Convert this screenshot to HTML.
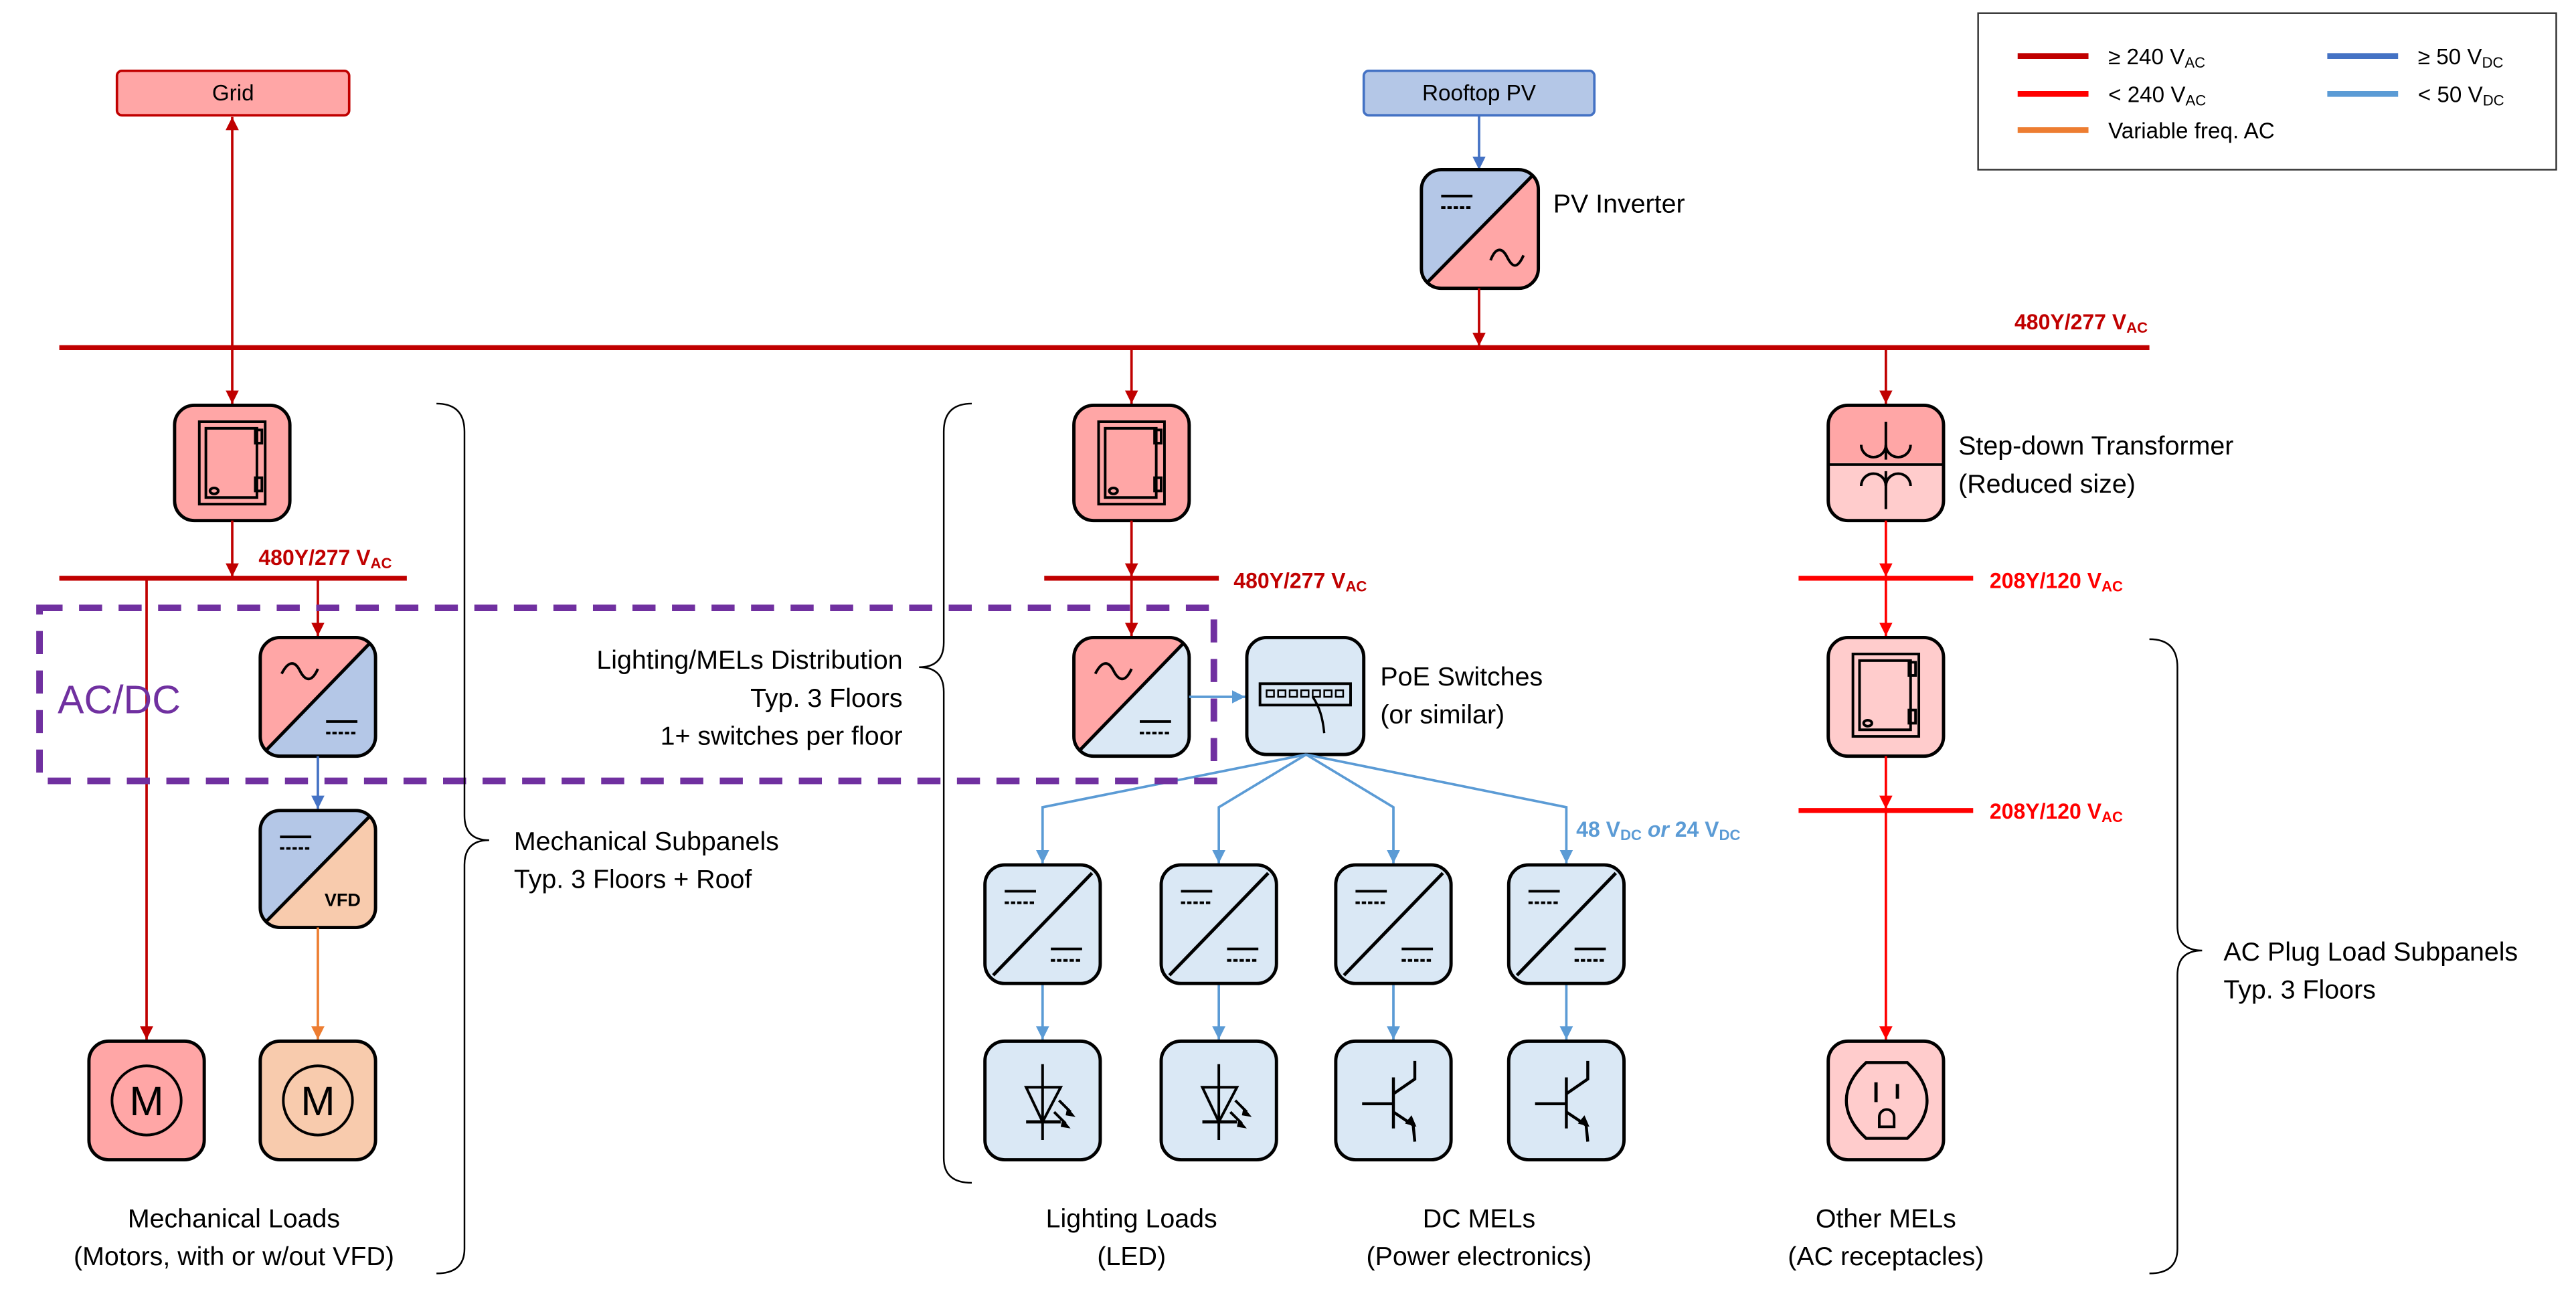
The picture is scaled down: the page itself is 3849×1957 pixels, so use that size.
<!DOCTYPE html>
<html><head><meta charset="utf-8"><style>html,body{margin:0;padding:0;background:#fff}svg{display:block}</style></head>
<body>
<svg xmlns="http://www.w3.org/2000/svg" width="3849" height="1957" viewBox="0 0 1564 795.2" font-family="Liberation Sans, sans-serif">
<defs>
<clipPath id="rr" clipPathUnits="objectBoundingBox"><rect x="0" y="0" width="1" height="1" rx="0.17" ry="0.17"/></clipPath>
<marker id="aD" markerUnits="userSpaceOnUse" markerWidth="10" markerHeight="10" refX="8" refY="4" orient="auto"><path d="M0,0L8,4L0,8z" fill="#c00000"/></marker>
<marker id="aDs" markerUnits="userSpaceOnUse" markerWidth="10" markerHeight="10" refX="8" refY="4" orient="auto-start-reverse"><path d="M0,0L8,4L0,8z" fill="#c00000"/></marker>
<marker id="aR" markerUnits="userSpaceOnUse" markerWidth="10" markerHeight="10" refX="8" refY="4" orient="auto"><path d="M0,0L8,4L0,8z" fill="#ff0000"/></marker>
<marker id="aB" markerUnits="userSpaceOnUse" markerWidth="10" markerHeight="10" refX="8" refY="4" orient="auto"><path d="M0,0L8,4L0,8z" fill="#4472c4"/></marker>
<marker id="aL" markerUnits="userSpaceOnUse" markerWidth="10" markerHeight="10" refX="8" refY="4" orient="auto"><path d="M0,0L8,4L0,8z" fill="#5b9bd5"/></marker>
<marker id="aO" markerUnits="userSpaceOnUse" markerWidth="10" markerHeight="10" refX="8" refY="4" orient="auto"><path d="M0,0L8,4L0,8z" fill="#ed7d31"/></marker>
<g id="door" fill="none" stroke="#000" stroke-width="1.6">
<rect x="15" y="10" width="40" height="50"/><rect x="19" y="14" width="31" height="42"/>
<rect x="49" y="15" width="4" height="8"/><rect x="49" y="44" width="4" height="8"/>
<ellipse cx="24" cy="52" rx="2.5" ry="1.8"/></g>
<g id="ac" fill="none" stroke="#000" stroke-width="1.6"><path d="M13,22 C17,14 21,14 24,20 S31,28 35,19"/></g>
<g id="dcTL" stroke="#000" stroke-width="1.6"><line x1="12" y1="16" x2="31" y2="16"/><line x1="12" y1="23" x2="31" y2="23" stroke-dasharray="2.6,1.2"/></g>
<g id="dcBR" stroke="#000" stroke-width="1.6"><line x1="40" y1="51" x2="59" y2="51"/><line x1="40" y1="58" x2="59" y2="58" stroke-dasharray="2.6,1.2"/></g>
</defs>

<!-- Legend -->
<rect x="1201" y="8" width="351" height="95" fill="#fff" stroke="#333" stroke-width="1"/>
<g stroke-width="3.5">
<line x1="1225" y1="34" x2="1268" y2="34" stroke="#c00000"/>
<line x1="1225" y1="57" x2="1268" y2="57" stroke="#ff0000"/>
<line x1="1225" y1="79" x2="1268" y2="79" stroke="#ed7d31"/>
<line x1="1413" y1="34" x2="1456" y2="34" stroke="#4472c4"/>
<line x1="1413" y1="57" x2="1456" y2="57" stroke="#5b9bd5"/>
</g>
<g font-size="13.5" fill="#000">
<text x="1280" y="39">≥ 240 V<tspan font-size="9" dy="2">AC</tspan></text>
<text x="1280" y="62">&lt; 240 V<tspan font-size="9" dy="2">AC</tspan></text>
<text x="1280" y="84">Variable freq. AC</text>
<text x="1468" y="39">≥ 50 V<tspan font-size="9" dy="2">DC</tspan></text>
<text x="1468" y="62">&lt; 50 V<tspan font-size="9" dy="2">DC</tspan></text>
</g>

<!-- Grid / PV -->
<rect x="71" y="43" width="141" height="27" rx="3" fill="#ffa6a6" stroke="#c00000" stroke-width="1.5"/>
<text x="141.5" y="61" font-size="13.5" text-anchor="middle">Grid</text>
<rect x="828" y="43" width="140" height="27" rx="3" fill="#b4c7e7" stroke="#4472c4" stroke-width="1.5"/>
<text x="898" y="61" font-size="13.5" text-anchor="middle">Rooftop PV</text>
<line x1="141" y1="71" x2="141" y2="245" stroke="#c00000" stroke-width="1.5" marker-start="url(#aDs)" marker-end="url(#aD)"/>
<line x1="898" y1="70" x2="898" y2="103" stroke="#4472c4" stroke-width="1.5" marker-end="url(#aB)"/>

<!-- PV inverter -->
<g transform="translate(863,103)">
<rect width="71" height="72" rx="12" fill="#b4c7e7"/>
<polygon points="0,72 71,0 71,72" fill="#ffa6a6" clip-path="url(#rr)"/>
<line x1="4" y1="68" x2="67" y2="4" stroke="#000" stroke-width="2"/>
<use href="#dcTL"/>
<path d="M42,55 C45,47 49,47 52,53 S58,61 62,52" fill="none" stroke="#000" stroke-width="1.6"/>
<rect width="71" height="72" rx="12" fill="none" stroke="#000" stroke-width="2"/>
</g>
<text x="943" y="129" font-size="16">PV Inverter</text>
<line x1="898" y1="175" x2="898" y2="210" stroke="#c00000" stroke-width="1.5" marker-end="url(#aD)"/>

<!-- Main bus -->
<line x1="36" y1="211" x2="1305" y2="211" stroke="#c00000" stroke-width="3"/>
<text x="1304" y="200" font-size="13" font-weight="bold" fill="#c00000" text-anchor="end">480Y/277 V<tspan font-size="9" dy="2">AC</tspan></text>

<line x1="687" y1="212" x2="687" y2="245" stroke="#c00000" stroke-width="1.5" marker-end="url(#aD)"/>
<line x1="1145" y1="212" x2="1145" y2="245" stroke="#c00000" stroke-width="1.5" marker-end="url(#aD)"/>

<!-- Left panel -->
<g transform="translate(106,246)"><rect width="70" height="70" rx="12" fill="#ffa6a6" stroke="#000" stroke-width="2"/><use href="#door"/></g>
<line x1="141" y1="316" x2="141" y2="350" stroke="#c00000" stroke-width="1.5" marker-end="url(#aD)"/>
<line x1="36" y1="351" x2="247" y2="351" stroke="#c00000" stroke-width="3"/>
<text x="157" y="343" font-size="13" font-weight="bold" fill="#c00000">480Y/277 V<tspan font-size="9" dy="2">AC</tspan></text>
<line x1="89" y1="352" x2="89" y2="631" stroke="#c00000" stroke-width="1.5" marker-end="url(#aD)"/>
<line x1="193" y1="352" x2="193" y2="386" stroke="#c00000" stroke-width="1.5" marker-end="url(#aD)"/>

<!-- Left AC/DC -->
<g transform="translate(158,387)">
<rect width="70" height="72" rx="12" fill="#ffa6a6"/>
<polygon points="0,72 70,0 70,72" fill="#b4c7e7" clip-path="url(#rr)"/>
<line x1="4" y1="68" x2="66" y2="4" stroke="#000" stroke-width="2"/>
<use href="#ac"/><use href="#dcBR"/>
<rect width="70" height="72" rx="12" fill="none" stroke="#000" stroke-width="2"/>
</g>
<line x1="193" y1="459" x2="193" y2="491" stroke="#4472c4" stroke-width="1.5" marker-end="url(#aB)"/>
<!-- VFD -->
<g transform="translate(158,492)">
<rect width="70" height="71" rx="12" fill="#b4c7e7"/>
<polygon points="0,71 70,0 70,71" fill="#f8cbad" clip-path="url(#rr)"/>
<line x1="4" y1="67" x2="66" y2="4" stroke="#000" stroke-width="2"/>
<use href="#dcTL"/>
<text x="50" y="58" font-size="11" font-weight="bold" text-anchor="middle">VFD</text>
<rect width="70" height="71" rx="12" fill="none" stroke="#000" stroke-width="2"/>
</g>
<line x1="193" y1="563" x2="193" y2="631" stroke="#ed7d31" stroke-width="1.5" marker-end="url(#aO)"/>
<!-- Motors -->
<g transform="translate(54,632)"><rect width="70" height="72" rx="12" fill="#ffa6a6" stroke="#000" stroke-width="2"/><circle cx="35" cy="36" r="21" fill="none" stroke="#000" stroke-width="1.6"/><text x="35" y="45" font-size="25" text-anchor="middle">M</text></g>
<g transform="translate(158,632)"><rect width="70" height="72" rx="12" fill="#f8cbad" stroke="#000" stroke-width="2"/><circle cx="35" cy="36" r="21" fill="none" stroke="#000" stroke-width="1.6"/><text x="35" y="45" font-size="25" text-anchor="middle">M</text></g>

<!-- Middle panel -->
<g transform="translate(652,246)"><rect width="70" height="70" rx="12" fill="#ffa6a6" stroke="#000" stroke-width="2"/><use href="#door"/></g>
<line x1="687" y1="316" x2="687" y2="350" stroke="#c00000" stroke-width="1.5" marker-end="url(#aD)"/>
<line x1="634" y1="351" x2="740" y2="351" stroke="#c00000" stroke-width="3"/>
<text x="749" y="357" font-size="13" font-weight="bold" fill="#c00000">480Y/277 V<tspan font-size="9" dy="2">AC</tspan></text>
<line x1="687" y1="352" x2="687" y2="386" stroke="#c00000" stroke-width="1.5" marker-end="url(#aD)"/>
<g transform="translate(652,387)">
<rect width="70" height="72" rx="12" fill="#ffa6a6"/>
<polygon points="0,72 70,0 70,72" fill="#dae8f5" clip-path="url(#rr)"/>
<line x1="4" y1="68" x2="66" y2="4" stroke="#000" stroke-width="2"/>
<use href="#ac"/><use href="#dcBR"/>
<rect width="70" height="72" rx="12" fill="none" stroke="#000" stroke-width="2"/>
</g>
<line x1="722" y1="423" x2="756" y2="423" stroke="#5b9bd5" stroke-width="1.5" marker-end="url(#aL)"/>
<!-- PoE -->
<g transform="translate(757,387)">
<rect width="71" height="71" rx="12" fill="#dae8f5" stroke="#000" stroke-width="2"/>
<rect x="8" y="28" width="55" height="13" fill="none" stroke="#000" stroke-width="1.6"/>
<g fill="none" stroke="#000" stroke-width="1">
<rect x="12" y="32" width="4.5" height="4"/><rect x="19" y="32" width="4.5" height="4"/><rect x="26" y="32" width="4.5" height="4"/><rect x="33" y="32" width="4.5" height="4"/><rect x="40" y="32" width="4.5" height="4"/><rect x="47" y="32" width="4.5" height="4"/><rect x="54" y="32" width="4.5" height="4"/></g>
<path d="M40,36 C44,42 46,48 47,58" fill="none" stroke="#000" stroke-width="1.4"/>
</g>
<text x="838" y="416" font-size="16">PoE Switches</text>
<text x="838" y="439" font-size="16">(or similar)</text>
<g fill="none" stroke="#5b9bd5" stroke-width="1.5">
<polyline points="793,458 633,490 633,524" marker-end="url(#aL)"/>
<polyline points="793,458 740,490 740,524" marker-end="url(#aL)"/>
<polyline points="793,458 846,490 846,524" marker-end="url(#aL)"/>
<polyline points="793,458 951,490 951,524" marker-end="url(#aL)"/>
<line x1="633" y1="597" x2="633" y2="631" marker-end="url(#aL)"/>
<line x1="740" y1="597" x2="740" y2="631" marker-end="url(#aL)"/>
<line x1="846" y1="597" x2="846" y2="631" marker-end="url(#aL)"/>
<line x1="951" y1="597" x2="951" y2="631" marker-end="url(#aL)"/>
</g>
<text x="957" y="508" font-size="13" font-weight="bold" fill="#5b9bd5">48 V<tspan font-size="9" dy="2">DC</tspan><tspan dy="-2" font-style="italic"> or </tspan>24 V<tspan font-size="9" dy="2">DC</tspan></text>

<!-- DC/DC converters -->
<g id="dd" transform="translate(598,525)">
<rect width="70" height="72" rx="12" fill="#dae8f5" stroke="#000" stroke-width="2"/>
<line x1="5" y1="67" x2="65" y2="5" stroke="#000" stroke-width="2"/>
<use href="#dcTL"/><use href="#dcBR"/>
</g>
<use href="#dd" transform="translate(107,0)"/>
<use href="#dd" transform="translate(213,0)"/>
<use href="#dd" transform="translate(318,0)"/>

<!-- LEDs -->
<g id="led" transform="translate(598,632)">
<rect width="70" height="72" rx="12" fill="#dae8f5" stroke="#000" stroke-width="2"/>
<g stroke="#000" stroke-width="1.6" fill="none">
<line x1="35" y1="14" x2="35" y2="60"/>
<polygon points="25,28 46,28 35,49"/>
<line x1="25" y1="49" x2="46" y2="49" stroke-width="2"/>
<line x1="45" y1="36" x2="52" y2="43"/><line x1="42" y1="43" x2="49" y2="50"/>
</g>
<path d="M50,40 L55,46 L49,45z M47,47 L52,53 L46,52z" fill="#000"/>
</g>
<use href="#led" transform="translate(107,0)"/>
<!-- Transistors -->
<g id="tr" transform="translate(811,632)">
<rect width="70" height="72" rx="12" fill="#dae8f5" stroke="#000" stroke-width="2"/>
<g stroke="#000" stroke-width="1.8" fill="none">
<line x1="35" y1="22" x2="35" y2="53"/>
<line x1="16" y1="38" x2="35" y2="38"/>
<polyline points="35,32 48,23 48,12"/>
<polyline points="35,43 47,51 48,61"/>
</g>
<path d="M42,50 L49,52 L46,45z" fill="#000"/>
</g>
<use href="#tr" transform="translate(105,0)"/>

<!-- Right: transformer -->
<g transform="translate(1110,246)">
<rect width="70" height="70" rx="12" fill="#ffcccc"/>
<path d="M0,35 L0,12 Q0,0 12,0 L58,0 Q70,0 70,12 L70,35z" fill="#ffa6a6"/>
<line x1="0" y1="36" x2="70" y2="36" stroke="#000" stroke-width="1.5"/>
<g stroke="#000" stroke-width="1.6" fill="none">
<line x1="35" y1="10" x2="35" y2="33"/><path d="M20,24 A7.5,7.5 0 0 0 35,24 A7.5,7.5 0 0 0 50,24"/>
<line x1="35" y1="40" x2="35" y2="63"/><path d="M20,49 A7.5,7.5 0 0 1 35,49 A7.5,7.5 0 0 1 50,49"/>
</g>
<rect width="70" height="70" rx="12" fill="none" stroke="#000" stroke-width="2"/>
</g>
<text x="1189" y="276" font-size="16">Step-down Transformer</text>
<text x="1189" y="299" font-size="16">(Reduced size)</text>
<line x1="1145" y1="316" x2="1145" y2="350" stroke="#ff0000" stroke-width="1.5" marker-end="url(#aR)"/>
<line x1="1092" y1="351" x2="1198" y2="351" stroke="#ff0000" stroke-width="3"/>
<text x="1208" y="357" font-size="13" font-weight="bold" fill="#ff0000">208Y/120 V<tspan font-size="9" dy="2">AC</tspan></text>
<line x1="1145" y1="352" x2="1145" y2="386" stroke="#ff0000" stroke-width="1.5" marker-end="url(#aR)"/>
<g transform="translate(1110,387)"><rect width="70" height="72" rx="12" fill="#ffcccc" stroke="#000" stroke-width="2"/><use href="#door"/></g>
<line x1="1145" y1="459" x2="1145" y2="491" stroke="#ff0000" stroke-width="1.5" marker-end="url(#aR)"/>
<line x1="1092" y1="492" x2="1198" y2="492" stroke="#ff0000" stroke-width="3"/>
<text x="1208" y="497" font-size="13" font-weight="bold" fill="#ff0000">208Y/120 V<tspan font-size="9" dy="2">AC</tspan></text>
<line x1="1145" y1="493" x2="1145" y2="631" stroke="#ff0000" stroke-width="1.5" marker-end="url(#aR)"/>
<g transform="translate(1110,632)">
<rect width="70" height="72" rx="12" fill="#ffcccc" stroke="#000" stroke-width="2"/>
<path d="M23,13 L48,13 Q60,24 60,36 Q60,48 48,59 L23,59 Q11,48 11,36 Q11,24 23,13z" fill="none" stroke="#000" stroke-width="1.8"/>
<line x1="29" y1="25" x2="29" y2="37" stroke="#000" stroke-width="2"/>
<line x1="42" y1="26" x2="42" y2="35" stroke="#000" stroke-width="2"/>
<path d="M31,52 L31,46 A4.5,4.5 0 0 1 40,46 L40,52z" fill="none" stroke="#000" stroke-width="1.6"/>
</g>

<!-- Dashed AC/DC region -->
<rect x="24" y="369" width="713" height="105" fill="none" stroke="#7030a0" stroke-width="4" stroke-dasharray="14,10"/>
<text x="35" y="433" font-size="24" fill="#7030a0">AC/DC</text>

<!-- Braces -->
<g fill="none" stroke="#000" stroke-width="1">
<path d="M265,245 Q282,245 282,262 L282,495 Q282,510 297,510 Q282,510 282,525 L282,758 Q282,773 265,773"/>
<path d="M590,245 Q573,245 573,262 L573,390 Q573,405 558,405 Q573,405 573,420 L573,703 Q573,718 590,718"/>
<path d="M1305,388 Q1322,388 1322,405 L1322,562 Q1322,577 1337,577 Q1322,577 1322,592 L1322,758 Q1322,773 1305,773"/>
</g>
<g font-size="16">
<text x="312" y="516">Mechanical Subpanels</text>
<text x="312" y="539">Typ. 3 Floors + Roof</text>
<text x="548" y="406" text-anchor="end">Lighting/MELs Distribution</text>
<text x="548" y="429" text-anchor="end">Typ. 3 Floors</text>
<text x="548" y="452" text-anchor="end">1+ switches per floor</text>
<text x="1350" y="583">AC Plug Load Subpanels</text>
<text x="1350" y="606">Typ. 3 Floors</text>
</g>
<g font-size="16" text-anchor="middle">
<text x="142" y="745">Mechanical Loads</text>
<text x="142" y="768">(Motors, with or w/out VFD)</text>
<text x="687" y="745">Lighting Loads</text>
<text x="687" y="768">(LED)</text>
<text x="898" y="745">DC MELs</text>
<text x="898" y="768">(Power electronics)</text>
<text x="1145" y="745">Other MELs</text>
<text x="1145" y="768">(AC receptacles)</text>
</g>
</svg>
</body></html>
